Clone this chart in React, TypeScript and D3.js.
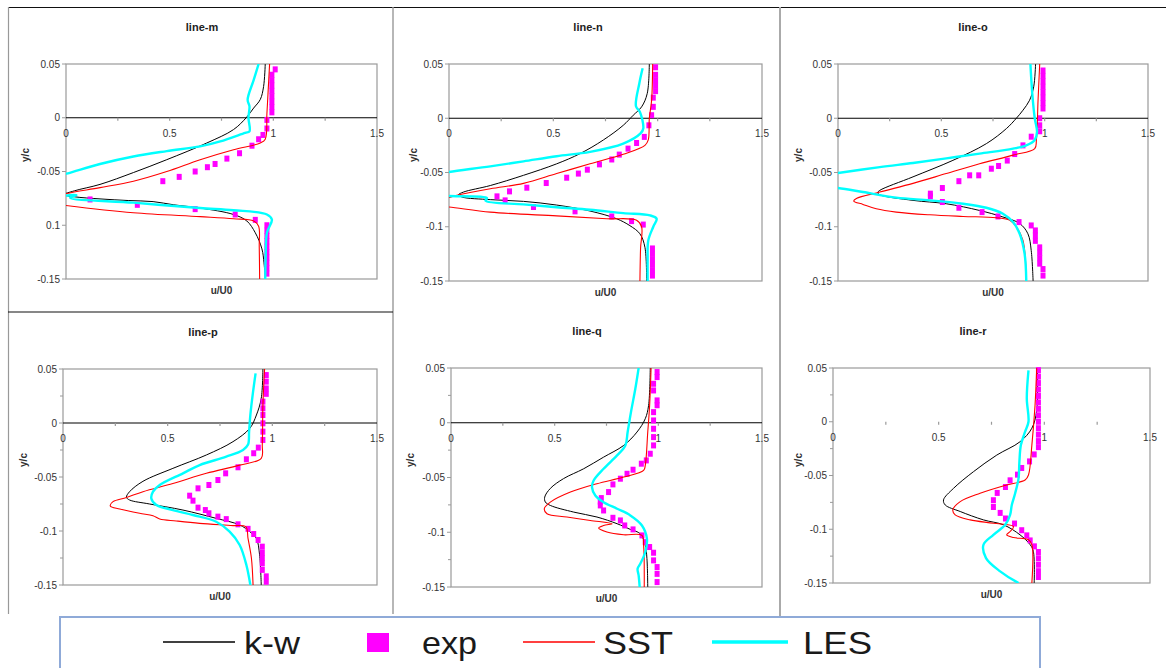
import React from 'react';
import * as d3 from 'd3';

type Pt = [number, number]; // [u/U0, y/c]

// ---- line-m ----
const kwM: Pt[] = [[0.961,0.050],[0.953,0.029],[0.937,0.017],[0.905,0.009],[0.869,0],[0.808,-0.011],[0.679,-0.0235],[0.486,-0.039],[0.325,-0.051],[0.164,-0.062],[0.04,-0.068],[-0.01,-0.0715],[0.04,-0.0735],[0.164,-0.0755],[0.30,-0.077],[0.42,-0.078],[0.52,-0.081],[0.647,-0.084],[0.808,-0.090],[0.872,-0.096],[0.913,-0.107],[0.945,-0.122],[0.955,-0.135],[0.961,-0.150]];
const sstM: Pt[] = [[0.982,0.050],[0.975,0.025],[0.969,0.004],[0.961,-0.020],[0.937,-0.0235],[0.808,-0.0297],[0.647,-0.039],[0.486,-0.050],[0.325,-0.059],[0.164,-0.065],[0.003,-0.0705],[-0.06,-0.074],[-0.06,-0.080],[0,-0.0816],[0.325,-0.0884],[0.647,-0.092],[0.808,-0.094],[0.905,-0.096],[0.929,-0.101],[0.932,-0.12],[0.934,-0.150]];
const lesM: Pt[] = [[0.929,0.050],[0.905,0.035],[0.876,0.0167],[0.885,0.0105],[0.880,0],[0.885,-0.0127],[0.864,-0.014],[0.744,-0.022],[0.647,-0.0266],[0.486,-0.031],[0.325,-0.036],[0.164,-0.043],[0.003,-0.052],[-0.08,-0.056],[-0.08,-0.071],[0.05,-0.072],[0.02,-0.0745],[0.325,-0.079],[0.647,-0.084],[0.808,-0.086],[0.969,-0.090],[0.993,-0.0946],[0.969,-0.107],[0.963,-0.13],[0.961,-0.150]];
const expM: Pt[] = [[1.009,0.045],[0.993,0.040],[0.993,0.035],[0.993,0.030],[0.993,0.025],[0.993,0.020],[0.993,0.015],[0.993,0.010],[0.993,0.005],[0.969,-0.002],[0.969,-0.010],[0.950,-0.016],[0.929,-0.020],[0.897,-0.026],[0.837,-0.033],[0.776,-0.038],[0.719,-0.043],[0.682,-0.046],[0.623,-0.050],[0.546,-0.055],[0.467,-0.059],[0.116,-0.076],[0.344,-0.081],[0.623,-0.085],[0.816,-0.090],[0.913,-0.095],[0.969,-0.100],[0.969,-0.105],[0.969,-0.110],[0.969,-0.115],[0.969,-0.120],[0.969,-0.125],[0.969,-0.130],[0.969,-0.135],[0.969,-0.140],[0.969,-0.145]];

// ---- line-n ----
const kwN: Pt[] = [[0.960,0.050],[0.950,0.0228],[0.923,0.0105],[0.883,0.0028],[0.835,-0.0065],[0.740,-0.020],[0.628,-0.0326],[0.516,-0.042],[0.357,-0.0526],[0.198,-0.062],[0.070,-0.068],[0.046,-0.0705],[0.062,-0.0726],[0.198,-0.075],[0.357,-0.0766],[0.516,-0.080],[0.676,-0.0855],[0.803,-0.0926],[0.867,-0.099],[0.915,-0.1065],[0.939,-0.119],[0.947,-0.150]];
const sstN: Pt[] = [[0.976,0.050],[0.971,0.0166],[0.960,0],[0.955,-0.020],[0.939,-0.025],[0.835,-0.0332],[0.676,-0.042],[0.516,-0.051],[0.357,-0.060],[0.198,-0.065],[0.038,-0.071],[0,-0.073],[-0.06,-0.076],[-0.06,-0.081],[0,-0.0818],[0.198,-0.0865],[0.516,-0.090],[0.756,-0.0926],[0.899,-0.094],[0.923,-0.100],[0.918,-0.12],[0.915,-0.150]];
const lesN: Pt[] = [[0.928,0.046],[0.912,0.032],[0.896,0.011],[0.915,0.0058],[0.931,-0.0095],[0.918,-0.014],[0.835,-0.0234],[0.676,-0.031],[0.516,-0.035],[0.357,-0.0397],[0.198,-0.0443],[0,-0.0495],[-0.08,-0.052],[-0.08,-0.071],[0,-0.0717],[0.182,-0.0735],[0.175,-0.076],[0.357,-0.0794],[0.516,-0.082],[0.676,-0.0843],[0.835,-0.0874],[0.963,-0.0895],[0.995,-0.0926],[0.979,-0.100],[0.955,-0.1126],[0.952,-0.130],[0.952,-0.150]];
const expN: Pt[] = [[0.990,0.047],[0.990,0.040],[0.990,0.035],[0.990,0.030],[0.990,0.025],[0.979,0.019],[0.979,0.0105],[0.971,0.0028],[0.958,-0.0065],[0.936,-0.0172],[0.899,-0.0228],[0.858,-0.028],[0.816,-0.0335],[0.780,-0.038],[0.721,-0.0425],[0.663,-0.0474],[0.620,-0.051],[0.564,-0.0548],[0.466,-0.0597],[0.373,-0.064],[0.290,-0.0674],[0.230,-0.072],[0.269,-0.0757],[0.405,-0.0818],[0.604,-0.0858],[0.780,-0.0905],[0.875,-0.0948],[0.931,-0.098],[0.975,-0.120],[0.975,-0.125],[0.975,-0.130],[0.975,-0.135],[0.975,-0.140],[0.975,-0.145]];

// ---- line-o ----
const kwO: Pt[] = [[0.956,0.050],[0.947,0.029],[0.927,0.0166],[0.895,0.0074],[0.863,0],[0.815,-0.0095],[0.718,-0.0234],[0.556,-0.0388],[0.363,-0.054],[0.202,-0.0665],[0.192,-0.0685],[0.202,-0.0705],[0.363,-0.0757],[0.524,-0.0788],[0.685,-0.085],[0.798,-0.091],[0.879,-0.097],[0.919,-0.1065],[0.935,-0.122],[0.944,-0.150]];
const sstO: Pt[] = [[0.976,0.050],[0.968,0.0166],[0.960,-0.020],[0.952,-0.028],[0.847,-0.034],[0.685,-0.042],[0.524,-0.051],[0.363,-0.060],[0.202,-0.068],[0.089,-0.074],[0.076,-0.0763],[0.121,-0.0794],[0.185,-0.0834],[0.282,-0.0865],[0.444,-0.089],[0.605,-0.0905],[0.766,-0.0917],[0.831,-0.094],[0.863,-0.100],[0.895,-0.1126],[0.911,-0.150]];
const lesO: Pt[] = [[0.931,0.050],[0.940,0.0228],[0.952,0],[0.963,-0.0126],[0.952,-0.020],[0.911,-0.025],[0.847,-0.028],[0.685,-0.0326],[0.524,-0.037],[0.363,-0.0412],[0.202,-0.045],[0,-0.0505],[-0.08,-0.053],[-0.08,-0.063],[0,-0.0643],[0.121,-0.068],[0.282,-0.0732],[0.444,-0.0757],[0.605,-0.0788],[0.718,-0.0825],[0.798,-0.088],[0.847,-0.0957],[0.879,-0.1065],[0.903,-0.125],[0.911,-0.150]];
const expO: Pt[] = [[0.992,0.044],[0.992,0.039],[0.992,0.034],[0.992,0.029],[0.992,0.024],[0.992,0.019],[0.992,0.014],[0.992,0.009],[0.976,0],[0.976,-0.0065],[0.976,-0.012],[0.935,-0.017],[0.895,-0.025],[0.855,-0.033],[0.819,-0.039],[0.777,-0.044],[0.742,-0.0465],[0.681,-0.0526],[0.637,-0.0526],[0.585,-0.058],[0.505,-0.0643],[0.447,-0.0695],[0.447,-0.072],[0.505,-0.0772],[0.585,-0.0825],[0.697,-0.0865],[0.774,-0.0905],[0.876,-0.0957],[0.935,-0.0988],[0.955,-0.1034],[0.955,-0.108],[0.955,-0.113],[0.976,-0.119],[0.976,-0.124],[0.976,-0.129],[0.976,-0.134],[0.992,-0.139],[0.992,-0.145]];

// ---- line-p ----
const kwP: Pt[] = [[0.955,0.050],[0.947,0.0228],[0.924,0.0074],[0.892,-0.005],[0.812,-0.0173],[0.685,-0.0296],[0.525,-0.042],[0.382,-0.054],[0.318,-0.0636],[0.303,-0.0688],[0.318,-0.0713],[0.414,-0.075],[0.573,-0.0806],[0.732,-0.0883],[0.844,-0.0944],[0.892,-0.1006],[0.924,-0.107],[0.939,-0.122],[0.947,-0.150]];
const sstP: Pt[] = [[0.963,0.050],[0.955,0.0167],[0.952,-0.020],[0.947,-0.0327],[0.844,-0.039],[0.685,-0.0466],[0.525,-0.056],[0.382,-0.0636],[0.303,-0.069],[0.239,-0.0728],[0.226,-0.0768],[0.271,-0.0796],[0.366,-0.0836],[0.430,-0.0858],[0.462,-0.0889],[0.541,-0.0907],[0.653,-0.0929],[0.812,-0.095],[0.873,-0.096],[0.884,-0.107],[0.900,-0.125],[0.908,-0.150]];
const lesP: Pt[] = [[0.920,0.046],[0.908,0.029],[0.895,0.0074],[0.889,-0.008],[0.884,-0.020],[0.860,-0.025],[0.780,-0.0312],[0.653,-0.0389],[0.573,-0.0466],[0.462,-0.0574],[0.430,-0.0636],[0.422,-0.0698],[0.446,-0.0759],[0.525,-0.0806],[0.621,-0.0852],[0.732,-0.0914],[0.796,-0.1006],[0.844,-0.113],[0.876,-0.1315],[0.895,-0.150]];
const expP: Pt[] = [[0.971,0.0444],[0.971,0.0383],[0.971,0.032],[0.971,0.027],[0.955,0.0198],[0.955,0.0136],[0.955,0.0074],[0.955,-0.0003],[0.955,-0.008],[0.955,-0.0157],[0.933,-0.0228],[0.911,-0.028],[0.876,-0.0336],[0.836,-0.041],[0.777,-0.0466],[0.740,-0.0528],[0.697,-0.0574],[0.645,-0.0605],[0.605,-0.0673],[0.621,-0.0719],[0.645,-0.0784],[0.680,-0.0806],[0.697,-0.0836],[0.740,-0.0867],[0.780,-0.089],[0.836,-0.0938],[0.884,-0.098],[0.911,-0.1028],[0.932,-0.1083],[0.952,-0.1145],[0.952,-0.120],[0.952,-0.125],[0.952,-0.130],[0.952,-0.136],[0.971,-0.142],[0.971,-0.147]];

// ---- line-q ----
const kwQ: Pt[] = [[0.961,0.050],[0.953,0.0158],[0.937,0.0037],[0.897,-0.0085],[0.833,-0.0207],[0.736,-0.0314],[0.640,-0.042],[0.543,-0.051],[0.479,-0.060],[0.452,-0.0679],[0.455,-0.0724],[0.479,-0.0755],[0.592,-0.0816],[0.704,-0.0861],[0.801,-0.0922],[0.865,-0.0974],[0.913,-0.1014],[0.937,-0.112],[0.945,-0.124],[0.949,-0.150]];
const sstQ: Pt[] = [[0.965,0.050],[0.958,0.0158],[0.949,-0.0085],[0.937,-0.039],[0.929,-0.0435],[0.833,-0.0496],[0.704,-0.0557],[0.576,-0.0633],[0.479,-0.0725],[0.450,-0.0785],[0.463,-0.0831],[0.559,-0.0861],[0.672,-0.0892],[0.777,-0.0922],[0.736,-0.0938],[0.712,-0.0962],[0.752,-0.0998],[0.833,-0.1023],[0.921,-0.1029],[0.929,-0.112],[0.932,-0.150]];
const lesQ: Pt[] = [[0.905,0.050],[0.889,0.031],[0.868,0.0097],[0.852,-0.0085],[0.841,-0.0207],[0.801,-0.0298],[0.736,-0.042],[0.688,-0.0527],[0.680,-0.0588],[0.696,-0.0664],[0.736,-0.0725],[0.801,-0.0785],[0.865,-0.0846],[0.921,-0.0938],[0.945,-0.106],[0.937,-0.118],[0.913,-0.1288],[0.900,-0.1333],[0.905,-0.1394],[0.910,-0.150]];
const expQ: Pt[] = [[0.994,0.0463],[0.994,0.0417],[0.977,0.0356],[0.977,0.0295],[0.994,0.0204],[0.994,0.016],[0.977,0.0097],[0.977,0.0021],[0.977,-0.0055],[0.977,-0.0131],[0.977,-0.0207],[0.961,-0.0283],[0.942,-0.0344],[0.918,-0.0374],[0.878,-0.0429],[0.849,-0.0466],[0.817,-0.0511],[0.781,-0.0563],[0.760,-0.0633],[0.725,-0.0688],[0.720,-0.072],[0.720,-0.0755],[0.736,-0.0801],[0.781,-0.0868],[0.817,-0.0892],[0.838,-0.0938],[0.878,-0.0974],[0.921,-0.1029],[0.937,-0.109],[0.958,-0.1135],[0.977,-0.1187],[0.977,-0.1257],[0.994,-0.1318],[0.994,-0.138],[0.994,-0.1455]];

// ---- line-r ----
const kwR: Pt[] = [[0.967,0.050],[0.964,0.0107],[0.941,-0.006],[0.885,-0.0186],[0.775,-0.031],[0.665,-0.0464],[0.570,-0.062],[0.523,-0.0727],[0.531,-0.0774],[0.602,-0.0835],[0.712,-0.0913],[0.807,-0.0959],[0.885,-0.1052],[0.933,-0.1144],[0.948,-0.1206],[0.952,-0.150]];
const sstR: Pt[] = [[0.964,0.050],[0.956,0.0154],[0.941,-0.0217],[0.925,-0.0495],[0.909,-0.0542],[0.822,-0.0588],[0.696,-0.0665],[0.602,-0.0743],[0.567,-0.082],[0.578,-0.0866],[0.649,-0.0913],[0.759,-0.0944],[0.854,-0.0975],[0.838,-0.1021],[0.822,-0.1052],[0.854,-0.1077],[0.925,-0.1098],[0.941,-0.1144],[0.941,-0.150]];
const lesR: Pt[] = [[0.925,0.0478],[0.917,0.0216],[0.925,0],[0.909,-0.0093],[0.889,-0.0217],[0.882,-0.0372],[0.878,-0.0526],[0.862,-0.0665],[0.846,-0.0774],[0.838,-0.0866],[0.815,-0.0959],[0.759,-0.1052],[0.712,-0.1144],[0.724,-0.1268],[0.791,-0.1392],[0.878,-0.150]];
const expR: Pt[] = [[0.972,0.048],[0.972,0.042],[0.972,0.036],[0.972,0.030],[0.972,0.024],[0.972,0.018],[0.972,0.012],[0.972,0.006],[0.972,0],[0.972,-0.006],[0.972,-0.012],[0.972,-0.018],[0.972,-0.0236],[0.952,-0.0304],[0.930,-0.0369],[0.893,-0.043],[0.873,-0.0492],[0.838,-0.0545],[0.816,-0.0607],[0.777,-0.0662],[0.759,-0.073],[0.759,-0.0793],[0.791,-0.0848],[0.816,-0.090],[0.859,-0.0947],[0.893,-0.1009],[0.917,-0.1057],[0.933,-0.1104],[0.953,-0.1159],[0.972,-0.1212],[0.972,-0.127],[0.972,-0.133],[0.972,-0.139],[0.972,-0.1444]];

// ---- axes & legend text ----
const xTickValues = [0, 0.5, 1, 1.5];
const xTickLabels = ['0', '0.5', '1', '1.5'];
const xMinorTicks = [0.25, 0.5, 0.75, 1, 1.25];
const yTickValues = [0.05, 0, -0.05, -0.1, -0.15];
const yTickLabelsM = ['0.05', '0', '-0.05', '0.1', '-0.15'];
const yTickLabels = ['0.05', '0', '-0.05', '-0.1', '-0.15'];
const yMinorTicks = [0.025, -0.025, -0.075, -0.125];
const legendLabels = ['k-w', 'exp', 'SST', 'LES'];

const COLORS = { kw: '#000000', exp: '#ff00ff', sst: '#ff0000', les: '#00ffff' };
const FONT = '"Liberation Sans", Arial, Helvetica, sans-serif';

interface PanelDef {
  title: string;
  kw: Pt[]; exp: Pt[]; sst: Pt[]; les: Pt[];
  yLabels: string[];
  x0: number; x1: number; y0: number; y1: number;
  titleX: number; titleY: number; yTitleX: number; yTitleY: number;
  zeroLine: boolean; minorY: boolean;
}

const panels: PanelDef[] = [
  { title: 'line-m', kw: kwM, exp: expM, sst: sstM, les: lesM, yLabels: yTickLabelsM, x0: 66, x1: 377, y0: 64, y1: 279, titleX: 202, titleY: 31, yTitleX: 25, yTitleY: 155, zeroLine: true, minorY: false },
  { title: 'line-n', kw: kwN, exp: expN, sst: sstN, les: lesN, yLabels: yTickLabels, x0: 449, x1: 762, y0: 64, y1: 281, titleX: 588, titleY: 31, yTitleX: 413, yTitleY: 155, zeroLine: true, minorY: false },
  { title: 'line-o', kw: kwO, exp: expO, sst: sstO, les: lesO, yLabels: yTickLabels, x0: 838, x1: 1148, y0: 64, y1: 281, titleX: 973, titleY: 31, yTitleX: 798, yTitleY: 155, zeroLine: true, minorY: false },
  { title: 'line-p', kw: kwP, exp: expP, sst: sstP, les: lesP, yLabels: yTickLabels, x0: 63, x1: 377, y0: 369, y1: 585, titleX: 203, titleY: 336, yTitleX: 23, yTitleY: 460, zeroLine: true, minorY: true },
  { title: 'line-q', kw: kwQ, exp: expQ, sst: sstQ, les: lesQ, yLabels: yTickLabels, x0: 451, x1: 762, y0: 368, y1: 587, titleX: 587, titleY: 335, yTitleX: 410, yTitleY: 460, zeroLine: true, minorY: true },
  { title: 'line-r', kw: kwR, exp: expR, sst: sstR, les: lesR, yLabels: yTickLabels, x0: 833, x1: 1150, y0: 368, y1: 583, titleX: 973, titleY: 335, yTitleX: 798, yTitleY: 460, zeroLine: false, minorY: true },
];

function Panel({ p, idx }: { p: PanelDef; idx: number }) {
  const x = d3.scaleLinear().domain([0, 1.5]).range([p.x0, p.x1]);
  const y = d3.scaleLinear().domain([0.05, -0.15]).range([p.y0, p.y1]);
  const line = d3.line<Pt>().x(d => x(d[0])).y(d => y(d[1])).curve(d3.curveCatmullRom.alpha(0.5));
  const clipId = `plot-clip-${idx}`;
  const y0 = y(0);
  const grey = '#9a9a9a';
  return (
    <g>
      <defs>
        <clipPath id={clipId}>
          <rect x={p.x0} y={p.y0} width={p.x1 - p.x0} height={p.y1 - p.y0} />
        </clipPath>
      </defs>
      <text x={p.titleX} y={p.titleY} textAnchor="middle" fontFamily={FONT} fontSize={11} fontWeight="bold" fill="#222">{p.title}</text>
      {/* plot area frame */}
      <rect x={p.x0} y={p.y0} width={p.x1 - p.x0} height={p.y1 - p.y0} fill="none" stroke={grey} strokeWidth={1.2} />
      {/* y axis ticks and labels */}
      {yTickValues.map((v, i) => (
        <g key={`yt${i}`}>
          <line x1={p.x0 - 4} x2={p.x0} y1={y(v)} y2={y(v)} stroke={grey} strokeWidth={1} />
          <text x={p.x0 - 6} y={y(v)} dy="0.35em" textAnchor="end" fontFamily={FONT} fontSize={10} fill="#333">{p.yLabels[i]}</text>
        </g>
      ))}
      {p.minorY && yMinorTicks.map((v, i) => (
        <line key={`ym${i}`} x1={p.x0 - 3} x2={p.x0} y1={y(v)} y2={y(v)} stroke={grey} strokeWidth={1} />
      ))}
      {/* x axis through y/c = 0 */}
      {p.zeroLine && <line x1={p.x0} x2={p.x1} y1={y0} y2={y0} stroke="#000" strokeWidth={1.2} />}
      {xMinorTicks.map((v, i) => (
        <line key={`xm${i}`} x1={x(v)} x2={x(v)} y1={y0} y2={y0 + 3} stroke={grey} strokeWidth={1.2} />
      ))}
      {xTickValues.map((v, i) => (
        <text key={`xt${i}`} x={x(v)} y={y0 + 19} textAnchor="middle" fontFamily={FONT} fontSize={10} fill="#333">{xTickLabels[i]}</text>
      ))}
      <text x={(p.x0 + p.x1) / 2} y={p.y1 + 15} textAnchor="middle" fontFamily={FONT} fontSize={10} fontWeight="bold" fill="#333">u/U0</text>
      <text transform={`translate(${p.yTitleX},${p.yTitleY}) rotate(-90)`} textAnchor="middle" dy="0.35em" fontFamily={FONT} fontSize={10} fontWeight="bold" fill="#333">y/c</text>
      {/* series */}
      <g clipPath={`url(#${clipId})`}>
        <path d={line(p.kw) || ''} fill="none" stroke={COLORS.kw} strokeWidth={1} />
      </g>
      {p.exp.map((d, i) => (
        <rect key={`e${i}`} x={x(d[0]) - 2.5} y={y(d[1]) - 3} width={5} height={6} fill={COLORS.exp} />
      ))}
      <g clipPath={`url(#${clipId})`}>
        <path d={line(p.sst) || ''} fill="none" stroke={COLORS.sst} strokeWidth={1.1} />
        <path d={line(p.les) || ''} fill="none" stroke={COLORS.les} strokeWidth={2.4} />
      </g>
    </g>
  );
}

function Legend() {
  const ly = 642;
  const textProps = { fontFamily: FONT, fontSize: 32, fill: '#1a1a1a' } as const;
  return (
    <g>
      <rect x={60} y={617} width={980} height={60} fill="#fff" stroke="#8faad8" strokeWidth={2} />
      <line x1={163} x2={235} y1={ly} y2={ly} stroke={COLORS.kw} strokeWidth={1.5} />
      <text x={244} y={654} textLength={56} lengthAdjust="spacingAndGlyphs" {...textProps}>{legendLabels[0]}</text>
      <rect x={367} y={633} width={22} height={19} fill={COLORS.exp} />
      <text x={422} y={654} textLength={55} lengthAdjust="spacingAndGlyphs" {...textProps}>{legendLabels[1]}</text>
      <line x1={523} x2={595} y1={ly} y2={ly} stroke={COLORS.sst} strokeWidth={1.5} />
      <text x={603} y={654} textLength={70} lengthAdjust="spacingAndGlyphs" {...textProps}>{legendLabels[2]}</text>
      <line x1={712} x2={788} y1={ly} y2={ly} stroke={COLORS.les} strokeWidth={3.5} />
      <text x={803} y={654} textLength={69} lengthAdjust="spacingAndGlyphs" {...textProps}>{legendLabels[3]}</text>
    </g>
  );
}

export default function App() {
  return (
    <svg width={1166} height={668} style={{ position: 'absolute', left: 0, top: 0, background: '#fff' }}>
      <rect x={0} y={0} width={1166} height={668} fill="#fff" />
      {/* panel separators */}
      <line x1={8} x2={1166} y1={7.5} y2={7.5} stroke="#111" strokeWidth={1.2} />
      <line x1={8.5} x2={8.5} y1={7} y2={614} stroke="#999" strokeWidth={1.2} />
      <line x1={393} x2={393} y1={7} y2={614} stroke="#999" strokeWidth={1.4} />
      <line x1={780} x2={780} y1={7} y2={617} stroke="#aaa" strokeWidth={2} />
      <line x1={8} x2={393} y1={312} y2={312} stroke="#111" strokeWidth={1.2} />
      {panels.map((p, i) => <Panel key={p.title} p={p} idx={i} />)}
      <Legend />
    </svg>
  );
}
